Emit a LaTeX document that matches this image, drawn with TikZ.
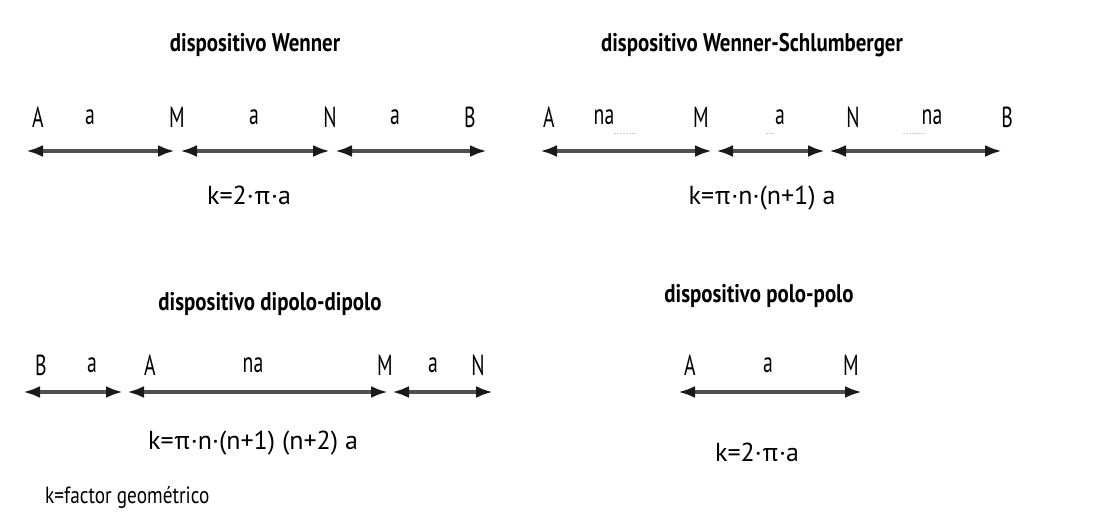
\documentclass[tikz,border=0pt]{standalone}
\usepackage{fontspec}
\setmainfont{PT Sans}[FakeStretch=0.82]
\newfontfamily\formfont{PT Sans}
\newfontfamily\lblfont{PT Sans}[FakeStretch=0.68]
\usetikzlibrary{arrows.meta}
\definecolor{linegray}{HTML}{505050}
\tikzset{
  title/.style={font=\fontsize{25.5}{28}\selectfont\bfseries, inner sep=0pt},
  lbl/.style={font=\lblfont\fontsize{29}{32}\selectfont, inner sep=0pt},
  formula/.style={font=\formfont\fontsize{26}{30}\selectfont, inner sep=0pt},
  dimarrow/.style={draw=linegray, line width=4pt, {Latex[length=17pt,width=12pt,color=black!90]}-{Latex[length=17pt,width=12pt,color=black!90]}},
  faint/.style={draw=black!20, line width=0.8pt, dash pattern=on 2pt off 1pt}
}
\begin{document}
\begin{tikzpicture}[x=1pt,y=-1pt]
\useasboundingbox[fill=white] (0,0) rectangle (1112,519);

% ---------- Wenner ----------
\node[title] (t1) at (255,45) {dispositivo Wenner};
\node[lbl] (w1A) at (38,117) {A};
\node[lbl] (w1a1) at (90,117) {a};
\node[lbl] (w1M) at (177,117) {M};
\node[lbl] (w1a2) at (254,117) {a};
\node[lbl] (w1N) at (330,117) {N};
\node[lbl] (w1a3) at (395,117) {a};
\node[lbl] (w1B) at (470,117) {B};
\coordinate (w1p0) at (26,151);
\coordinate (w1p1) at (175,151);
\coordinate (w1p2) at (180,151);
\coordinate (w1p3) at (330,151);
\coordinate (w1p4) at (335,151);
\coordinate (w1p5) at (487,151);
\draw[dimarrow] (w1p0) -- (w1p1);
\draw[dimarrow] (w1p2) -- (w1p3);
\draw[dimarrow] (w1p4) -- (w1p5);
\node[formula] (k1) at (249,195) {k=2·π·a};

% ---------- Wenner-Schlumberger ----------
\node[title] (t2) at (752,45) {dispositivo Wenner-Schlumberger};
\node[lbl] (w2A) at (549,117) {A};
\node[lbl] (w2na1) at (604,117) {na};
\node[lbl] (w2M) at (701,117) {M};
\node[lbl] (w2a) at (780,117) {a};
\node[lbl] (w2N) at (853,117) {N};
\node[lbl] (w2na2) at (932,117) {na};
\node[lbl] (w2B) at (1007,117) {B};
\coordinate (f1a) at (614,133); \coordinate (f1b) at (636,133);
\coordinate (f2a) at (766,133); \coordinate (f2b) at (774,133);
\coordinate (f3a) at (903,133); \coordinate (f3b) at (925,133);
\draw[faint] (f1a) -- (f1b);
\draw[faint] (f2a) -- (f2b);
\draw[faint] (f3a) -- (f3b);
\coordinate (w2p0) at (540,151);
\coordinate (w2p1) at (712,151);
\coordinate (w2p2) at (716,151);
\coordinate (w2p3) at (825,151);
\coordinate (w2p4) at (829,151);
\coordinate (w2p5) at (1002,151);
\draw[dimarrow] (w2p0) -- (w2p1);
\draw[dimarrow] (w2p2) -- (w2p3);
\draw[dimarrow] (w2p4) -- (w2p5);
\node[formula] (k2) at (762,198) {k=π·n·(n+1) a};

% ---------- dipolo-dipolo ----------
\node[title] (t3) at (270,304) {dispositivo dipolo-dipolo};
\node[lbl] (d1B) at (41,365) {B};
\node[lbl] (d1a1) at (92,365) {a};
\node[lbl] (d1A) at (150,365) {A};
\node[lbl] (d1na) at (253,365) {na};
\node[lbl] (d1M) at (385,365) {M};
\node[lbl] (d1a2) at (433,365) {a};
\node[lbl] (d1N) at (478,365) {N};
\coordinate (d1p0) at (23,392);
\coordinate (d1p1) at (123,392);
\coordinate (d1p2) at (127,392);
\coordinate (d1p3) at (388,392);
\coordinate (d1p4) at (392,392);
\coordinate (d1p5) at (493,392);
\draw[dimarrow] (d1p0) -- (d1p1);
\draw[dimarrow] (d1p2) -- (d1p3);
\draw[dimarrow] (d1p4) -- (d1p5);
\node[formula] (k3) at (253,443) {k=π·n·(n+1) (n+2) a};
\node[font=\fontsize{23.5}{26}\selectfont, inner sep=0pt, anchor=west] (kdef) at (45,498) {k=factor geométrico};

% ---------- polo-polo ----------
\node[title] (t4) at (759,296) {dispositivo polo-polo};
\node[lbl] (p1A) at (690,365) {A};
\node[lbl] (p1a) at (768,365) {a};
\node[lbl] (p1M) at (851,365) {M};
\coordinate (p1p0) at (678,392);
\coordinate (p1p1) at (862,392);
\draw[dimarrow] (p1p0) -- (p1p1);
\node[formula] (k4) at (757,452) {k=2·π·a};
\end{tikzpicture}
\end{document}
